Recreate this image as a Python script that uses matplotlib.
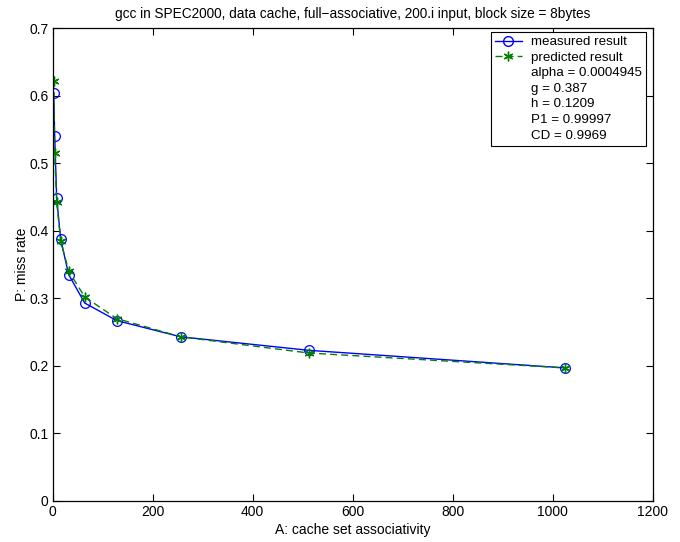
import matplotlib
matplotlib.use("Agg")
import matplotlib.pyplot as plt
from matplotlib.lines import Line2D

# data
assoc = [2, 4, 8, 16, 32, 64, 128, 256, 512, 1024]
measured = [0.604, 0.540, 0.448, 0.387, 0.335, 0.293, 0.267, 0.243, 0.223, 0.197]
predicted = [0.622, 0.515, 0.442, 0.385, 0.340, 0.302, 0.270, 0.243, 0.219, 0.197]
fit_params = ["alpha = 0.0004945", "g = 0.387", "h = 0.1209", "P1 = 0.99997", "CD = 0.9969"]

plt.rcParams["font.family"] = ["Liberation Sans", "DejaVu Sans"]
plt.rcParams["font.size"] = 10

GREEN = (0, 0.5, 0)
STAR = (6, 2, 0)  # matlab style asterisk

fig = plt.figure(figsize=(6.8, 5.42), dpi=100)
ax = fig.add_axes([52.7 / 680, 1 - 501 / 542, 600 / 680, 473 / 542])

ax.plot(assoc, measured, color="blue", linestyle="-", linewidth=1.0,
        marker="o", markersize=7, markerfacecolor="none", markeredgewidth=0.9)
ax.plot(assoc, predicted, color=GREEN, linestyle="--", linewidth=1.0,
        dashes=(5, 3), marker=STAR, markersize=7, markeredgewidth=1.0)

ax.set_xlim(0, 1200)
ax.set_ylim(0, 0.7)
ax.set_xticks(range(0, 1201, 200))
ax.set_yticks([0, 0.1, 0.2, 0.3, 0.4, 0.5, 0.6, 0.7])
ax.set_yticklabels(["0", "0.1", "0.2", "0.3", "0.4", "0.5", "0.6", "0.7"])
ax.tick_params(direction="in", top=True, right=True, length=5, width=0.8, pad=3)
for s in ax.spines.values():
    s.set_linewidth(0.9)

ax.set_title("gcc in SPEC2000, data cache, full\u2212associative, 200.i input, block size = 8bytes",
             fontsize=9.8, pad=7)
ax.set_xlabel("A: cache set associativity", labelpad=3)
ax.set_ylabel("P: miss rate", labelpad=0)

handles = [
    Line2D([], [], color="blue", marker="o", markerfacecolor="none", markersize=7, linewidth=1.0),
    Line2D([], [], color=GREEN, marker=STAR, linestyle="--", dashes=(5, 3), markersize=7, linewidth=1.0),
] + [Line2D([], [], linestyle="none") for _ in fit_params]
labels = ["measured result", "predicted result"] + fit_params

leg = ax.legend(handles, labels, loc="upper right", bbox_to_anchor=(646 / 680, 1 - 32 / 542),
                bbox_transform=fig.transFigure, fancybox=False, framealpha=1, fontsize=9.6,
                edgecolor="black", borderpad=0.3, handlelength=2.0, handletextpad=0.7,
                labelspacing=0.24, borderaxespad=0)
leg.get_frame().set_linewidth(0.8)

fig.savefig("out.png", dpi=100)
